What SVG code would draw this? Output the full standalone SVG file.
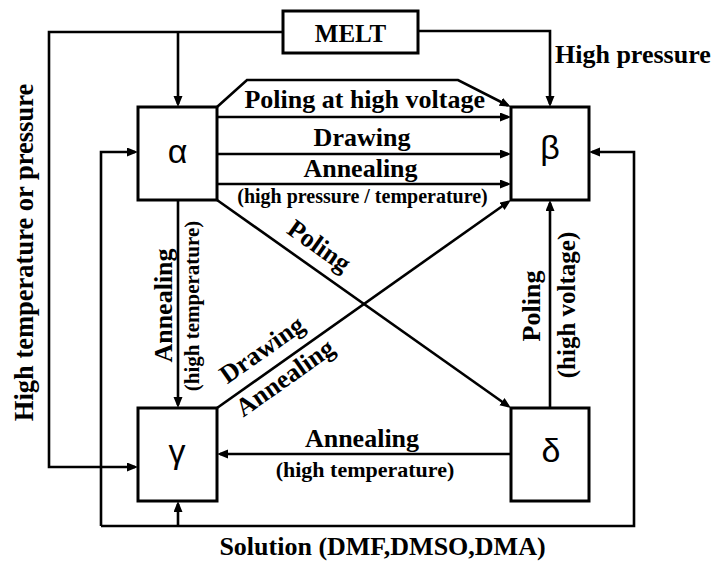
<svg xmlns="http://www.w3.org/2000/svg" width="715" height="562" viewBox="0 0 715 562">
<style>
.box{fill:#fff;stroke:#000;stroke-width:3}
.ln{fill:none;stroke:#000;stroke-width:2.6}
.arr{marker-end:url(#ah)}
.t{font-family:"Liberation Serif","Times New Roman",serif;font-weight:bold;fill:#000}
.g{font-family:"Liberation Sans",Arial,sans-serif;font-size:34px;fill:#000;text-anchor:middle}
.m{text-anchor:middle}
</style>
<defs>
<marker id="ah" markerUnits="userSpaceOnUse" markerWidth="12" markerHeight="10" refX="8" refY="4.5" orient="auto">
<path d="M0,0 L11,4.5 L0,9 z" fill="#000"/>
</marker>
</defs>
<rect width="715" height="562" fill="#fff"/>
<g id="connectors">
<path class="ln arr" d="M283,32 H49 V467 H135"/>
<path class="ln arr" d="M178,32 V104"/>
<path class="ln arr" d="M418,31 H550 V104"/>
<path class="ln arr" d="M217,107 L247,80 H458 L508,105.5"/>
<path class="ln arr" d="M217,117 H508"/>
<path class="ln arr" d="M217,154 H508"/>
<path class="ln arr" d="M217,184 H508"/>
<path class="ln arr" d="M217,200 L508.5,406.3"/>
<path class="ln arr" d="M217,408 L508.5,201.7"/>
<path class="ln arr" d="M178,200 V405"/>
<path class="ln arr" d="M550,408 V203"/>
<path class="ln arr" d="M511,454 H220"/>
<path class="ln arr" d="M101,526 V152 H135"/>
<path class="ln arr" d="M101,526 H634 V152 H592"/>
<path class="ln arr" d="M178,526 V504"/>
</g>
<g id="melt"><rect class="box" x="283" y="11" width="135" height="42"/><text class="t m" x="350.5" y="42" font-size="25">MELT</text></g>
<g id="alpha"><rect class="box" x="138" y="107" width="79" height="93"/><text class="g" x="177.5" y="163">α</text></g>
<g id="beta"><rect class="box" x="511" y="107" width="78" height="93"/><text class="g" x="550" y="159">β</text></g>
<g id="gamma"><rect class="box" x="138" y="408" width="79" height="93"/><text class="g" x="177" y="463">γ</text></g>
<g id="delta"><rect class="box" x="511" y="408" width="78" height="93"/><text class="g" x="551" y="462">δ</text></g>
<g id="labels">
<text class="t" x="555" y="63" font-size="26">High pressure</text>
<text class="t m" x="364.7" y="107.5" font-size="26">Poling at high voltage</text>
<text class="t m" x="362" y="146" font-size="26">Drawing</text>
<text class="t m" x="360.5" y="177" font-size="26">Annealing</text>
<text class="t m" x="362.5" y="203" font-size="20">(high pressure / temperature)</text>
<text class="t m" x="33" y="252.5" font-size="26.5" transform="rotate(-90 33 252.5)">High temperature or pressure</text>
<text class="t m" x="172" y="305.5" font-size="26" transform="rotate(-90 172 305.5)">Annealing</text>
<text class="t m" x="199" y="306" font-size="21" transform="rotate(-90 199 306)">(high temperature)</text>
<text class="t m" x="540" y="306" font-size="26" transform="rotate(-90 540 306)">Poling</text>
<text class="t m" x="575" y="305" font-size="25" transform="rotate(-90 575 305)">(high voltage)</text>
<text class="t m" x="314.3" y="252.9" font-size="26" transform="rotate(35.27 314.3 252.9)">Poling</text>
<text class="t m" x="266.8" y="356.6" font-size="26" transform="rotate(-35.27 266.8 356.6)">Drawing</text>
<text class="t m" x="289.9" y="384.7" font-size="26" transform="rotate(-35.27 289.9 384.7)">Annealing</text>
<text class="t m" x="362" y="447" font-size="26">Annealing</text>
<text class="t m" x="365" y="477" font-size="22">(high temperature)</text>
<text class="t m" x="382.5" y="555" font-size="26">Solution (DMF,DMSO,DMA)</text>
</g>
</svg>
